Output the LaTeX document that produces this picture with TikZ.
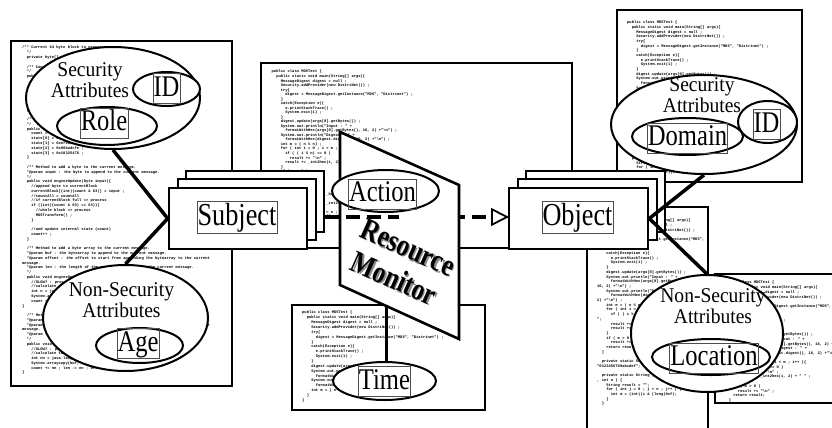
\documentclass[tikz,border=0pt]{standalone}
\usepackage{fontspec}
\usetikzlibrary{shapes.geometric,arrows.meta,calc}
\setmainfont{Liberation Serif}
\newfontfamily\tagfont[FakeStretch=0.82]{Liberation Serif}
\newfontfamily\attrfont[FakeStretch=0.93]{Liberation Serif}
\newfontfamily\codefont{Liberation Mono}
\definecolor{color_sheet}{HTML}{ffffff}
\definecolor{color_tagline}{HTML}{4d4d4d}

% one indent step of the listings
\newcommand\cind{\hspace*{1.2em}}

% listings printed on the sheets
\newcommand\mdmain{%
public class MD5Test \{\\
\cind public static void main(String[] args)\{\\
\cind\cind MessageDigest digest = null ;\\
\cind\cind Security.addProvider(new DistriNet()) ;\\
\cind\cind try\{\\
\cind\cind\cind digest = MessageDigest.getInstance("MD5", "Distrinet") ;\\
\cind\cind \}\\
\cind\cind catch(Exception e)\{\\
\cind\cind\cind e.printStackTrace() ;\\
\cind\cind\cind System.exit(1) ;\\
\cind\cind \}\\
\cind\cind digest.update(args[0].getBytes()) ;\\
\cind\cind System.out.println("Input : " +\\
\cind\cind\cind formatWithHex(args[0].getBytes(), 16, 2) +"\textbackslash n") ;\\
\cind\cind System.out.println("Digest : " +\\
\cind\cind\cind formatWithHex(digest.digest(), 16, 2) +"\textbackslash n") ;\\
\cind\cind int m = ( n \% n) ;}
\newcommand\mdloop{%
\cind\cind for ( int i = 0 ; i < m ; i++ )\{\\
\cind\cind\cind if ( ( i \% n) == 0 )\\
\cind\cind\cind\cind result += "\textbackslash n" ;\\
\cind\cind\cind result += \_int2hex(i, 2) + " " ;\\
\cind\cind \}\\
\cind\cind if ( m > 0 )\\
\cind\cind\cind result += "\textbackslash n" ;\\
\cind\cind return result;\\
\cind \}}
\newcommand\mdhelp{%
\cind private static String \_base = "0123456789abcdef";\\
~\\
\cind private static String \_int2hex ( long i, int n ) \{\\
\cind\cind String result = "";\\
\cind\cind for ( int j = 0 ; j < n ; j++ ) \{\\
\cind\cind\cind int m = (int)(i \& (long)0xf);}

\tikzset{
  page/.style={draw, line width=1.8pt, fill=color_sheet},
  codetext/.style={anchor=north west, inner sep=0, align=left,
    font=\codefont\bfseries\fontsize{3.8}{#1}\selectfont},
  card/.style={draw, line width=2.6pt, fill=white, inner sep=0,
    minimum width=138, minimum height=61},
  bubble/.style={ellipse, draw, line width=2pt, fill=white, inner sep=0},
  tagbox/.style={draw=color_tagline, line width=0.6pt, inner sep=0.6pt,
    text height=22pt, text depth=6.5pt, font=\tagfont\fontsize{30}{30}\selectfont},
  bigtag/.style={tagbox, text height=23.5pt, text depth=7pt,
    font=\tagfont\fontsize{32}{32}\selectfont},
  attrtext/.style={align=center, inner sep=0, font=\attrfont\fontsize{21}{21}\selectfont},
  rmtext/.style={rotate=-24, align=center, inner sep=0,
    font=\tagfont\bfseries\fontsize{31}{34}\selectfont},
  wedge/.style={line width=3.5pt, line join=miter},
  flow/.style={line width=4pt, dash pattern=on 14pt off 7pt}
}

\begin{document}
\begin{tikzpicture}[x=1pt,y=-1pt]
  \useasboundingbox (0,0) rectangle (832,428);
  \clip (0,0) rectangle (832,428);
  \fill[white] (0,0) rectangle (832,428);

  % Points
  \coordinate (subjC) at (238,218.5);
  \coordinate (objC) at (578.5,218.5);
  \coordinate (rmTL) at (340,132);
  \coordinate (rmTR) at (459,185);
  \coordinate (rmBR) at (459,339);
  \coordinate (rmBL) at (340,285);
  \coordinate (rmFoot) at ($(rmBL)!0.39!(rmBR)$);
  \coordinate (flowStart) at (325,217);
  \coordinate (flowCut) at (399,217);

  % Code sheets
  \draw[page] (11,41) rectangle (232,386);
  \node[codetext=4.78] (codeL) at (22,46) {%
/** Current 64 byte block to process.\\
\cind */\\
\cind private byte[] currentBlock = new byte[64] ;\\
~\\
\cind /** Constructor of the MD5 message digest.\\
\cind */\\
\cind public MD5()\{\\
\cind\cind super("MD5") ;\\
\cind\cind engineReset() ;\\
\cind \}\\
~\\
\cind /** Returns the length of the digest in bytes.\\
\cind */\\
\cind public int engineGetDigestLength()\{ return 16 ; \}\\
~\\
\cind /** Resets the message digest to its initial state.\\
\cind */\\
\cind public void engineReset()\{\\
\cind\cind count = 0 ;\\
\cind\cind state[0] = 0x67452301 ;\\
\cind\cind state[1] = 0xefcdab89 ;\\
\cind\cind state[2] = 0x98badcfe ;\\
\cind\cind state[3] = 0x10325476 ;\\
\cind \}\\
~\\
\cind /** Method to add a byte to the current message.\\
\cind *@param input : the byte to append to the current message.\\
\cind */\\
\cind public void engineUpdate(byte input)\{\\
\cind\cind //append byte to currentBlock\\
\cind\cind currentBlock[(int)(count \& 63)] = input ;\\
\cind\cind //countAll = countAll\\
\cind\cind //if currentBlock full => process\\
\cind\cind if ((int)(count \& 63) == 63))\{\\
\cind\cind\cind //whole block => process\\
\cind\cind\cind MD5Transform() ;\\
\cind\cind \}\\
~\\
\cind\cind //and update internal state (count)\\
\cind\cind count++ ;\\
\cind \}\\
~\\
\cind /** Method to add a byte array to the current message.\\
\cind *@param buf : the bytearray to append to the current message.\\
\cind *@param offset : the offset to start from appending the bytearray to the current\\
message.\\
\cind *@param len : the length of the message to append to the current message.\\
\cind */\\
\cind public void engineUpdate(byte[] buf, int offset, int len)\{\\
\cind\cind //SLOW? : process byte per byte\\
\cind\cind //calculate the number of bytes to copy\\
\cind\cind int n = java.lang.Math.min(len, 64) ;\\
\cind\cind System.arraycopy(buf, offset, currentBlock, 0, n) ;\\
\cind\cind count += n ;\\
\}\\
~\\
\cind /** Method to add a byte array to the current message.\\
\cind *@param buf : the bytearray to append to the current message.\\
\cind *@param offset : the offset to start from appending the bytearray to the current\\
message.\\
\cind *@param len : the length of the message to append to the current message.\\
\cind */\\
\cind public void engineUpdate(byte[] buf, int offset, int len)\{\\
\cind\cind //SLOW? : process byte per byte\\
\cind\cind //calculate the number of bytes to copy\\
\cind\cind int nn = java.lang.Math.min(len, 64) ;\\
\cind\cind System.arraycopy(buf, offset, currentBlock, 0, nn) ;\\
\cind\cind count += nn ; len -= nn ; offset += nn ;\\
\}};

  \draw[page] (261,63) rectangle (572,248);
  \node[codetext=4.53] (codeC) at (271.5,70) {\mdmain\\ \mdloop\\ ~\\ \mdhelp};

  \draw[page] (292,305) rectangle (485,410);
  \node[codetext=4.85] (codeT) at (302,311) {\mdmain\\ \cind \}\\ \}};

  \draw[page] (617,10) rectangle (802,182);
  \node[codetext=4.67] (codeR) at (627,21) {\mdmain\\ \mdloop\\ ~\\ \mdhelp};

  \draw[page] (587,207) rectangle (708,440);
  \node[codetext=4.7] (codeA) at (597,214) {%
public class MD5Test \{\\
\cind public static void main(String[] args)\{\\
\cind\cind MessageDigest digest = null ;\\
\cind\cind Security.addProvider(new DistriNet()) ;\\
\cind\cind try\{\\
\cind\cind\cind digest = MessageDigest.getInstance("MD5",\\
"Distrinet") ;\\
\cind\cind \}\\
\cind\cind catch(Exception e)\{\\
\cind\cind\cind e.printStackTrace() ;\\
\cind\cind\cind System.exit(1) ;\\
\cind\cind \}\\
\cind\cind digest.update(args[0].getBytes()) ;\\
\cind\cind System.out.println("Input : " +\\
\cind\cind\cind formatWithHex(args[0].getBytes(),\\
16, 2) +"\textbackslash n") ;\\
\cind\cind System.out.println("Digest : " +\\
\cind\cind\cind formatWithHex(digest.digest(), 16,\\
2) +"\textbackslash n") ;\\
\cind\cind int m = ( n \% n) ;\\
\cind\cind for ( int i = 0 ; i < m ; i++ )\{\\
\cind\cind\cind if ( ( i \% n) == 0 ) result += "\textbackslash n\\
";\\
\cind\cind\cind result += \_int2hex(i, 2) ;\\
\cind\cind\cind result += " " ;\\
\cind\cind \}\\
\cind\cind if ( m > 0 )\\
\cind\cind\cind result += "\textbackslash n" ;\\
\cind\cind return result;\\
\cind \}\\
~\\
\cind private static String \_base =\\
"0123456789abcdef";\\
~\\
\cind private static String \_int2hex ( long i\\
, int n ) \{\\
\cind\cind String result = "";\\
\cind\cind for ( int j = 0 ; j < n ; j++ ) \{\\
\cind\cind\cind int m = (int)(i \& (long)0xf);\\
\cind\cind \}\\
\cind \}};

  \draw[page] (715,274) rectangle (850,403);
  \node[codetext=4.7] (codeB) at (724,281) {\mdmain\\ \mdloop};

  % Access flow, behind the monitor
  \draw[flow, -{Triangle[length=18pt, width=18pt, line width=1.8pt, fill=white]}]
    (flowStart) -- (flowStart -| 509,0);

  % Subject and object stacks
  \foreach \d/\n in {17/B,9/M}
    \node[card] (subj\n) at ($(subjC)+(\d,-\d)$) {};
  \node[card] (subject) at (subjC) {};
  \node[bigtag] (subjLabel) at (237,217.5) {Subject};

  \foreach \d/\n in {17/B,9/M}
    \node[card, minimum width=139] (obj\n) at ($(objC)+(\d,-\d)$) {};
  \node[card, minimum width=139] (object) at (objC) {};
  \node[bigtag] (objLabel) at (577.5,217) {Object};

  % Resource monitor plate
  \draw[line width=2.6pt, fill=white, line join=miter]
    (rmTL) -- (rmTR) -- (rmBR) -- (rmBL) -- cycle;
  \draw[flow] (flowStart) -- (flowCut);
  \node[rmtext, text=black!45] at (402.5,264.5) {Resource\\Monitor};
  \node[rmtext] (rmLabel) at (401,263) {Resource\\Monitor};

  % Action on the plate
  \node[bubble, minimum width=107, minimum height=42] (actBub) at (385.5,191) {};
  \node[tagbox] (actLabel) at (382.5,194) {Action};

  % Time
  \node[bubble, minimum width=103, minimum height=38] (timeBub) at (384.5,381) {};
  \node[tagbox] (timeLabel) at (384.5,381.5) {Time};
  \draw[line width=2.6pt] (rmFoot) -- (rmFoot |- timeBub.north);

  % Subject attributes
  \node[bubble, minimum width=174, minimum height=102] (secL) at (113,98) {};
  \node[attrtext] (secLText) at (90,80.5) {Security\\Attributes};
  \node[bubble, minimum width=67, minimum height=34] (idLBub) at (166.5,89) {};
  \node[tagbox] (idL) at (166.5,88.5) {ID};
  \node[bubble, minimum width=100, minimum height=38] (roleBub) at (107,126) {};
  \node[tagbox] (role) at (104,123) {Role};

  \node[bubble, minimum width=165, minimum height=106] (nsecL) at (125.5,318) {};
  \node[attrtext] (nsecLText) at (121.5,300) {Non-Security\\Attributes};
  \node[bubble, minimum width=87, minimum height=35] (ageBub) at (139.5,345.5) {};
  \node[tagbox] (age) at (138,343.5) {Age};

  \draw[wedge] (secL.south) -- (subject.west) -- (nsecL.north);

  % Object attributes
  \node[bubble, minimum width=186, minimum height=99] (secR) at (704,124.5) {};
  \node[attrtext] (secRText) at (702,95.5) {Security\\Attributes};
  \node[bubble, minimum width=111, minimum height=37] (domBub) at (687.5,136.5) {};
  \node[tagbox] (domain) at (687.5,138) {Domain};
  \node[bubble, minimum width=59, minimum height=42] (idRBub) at (767.5,122) {};
  \node[tagbox] (idR) at (766.5,124.5) {ID};

  \node[bubble, minimum width=152, minimum height=117] (nsecR) at (707,333.5) {};
  \node[attrtext] (nsecRText) at (713,306.5) {Non-Security\\Attributes};
  \node[bubble, minimum width=118, minimum height=36] (locBub) at (711,357) {};
  \node[tagbox] (location) at (714,358) {Location};

  \draw[wedge] (secR.south) -- (object.east) -- (nsecR.north);
\end{tikzpicture}
\end{document}
